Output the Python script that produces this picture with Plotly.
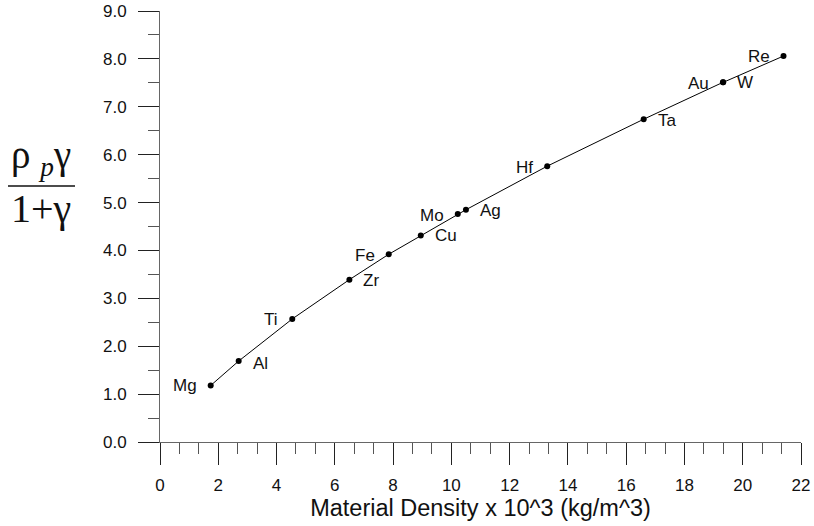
import plotly.graph_objects as go

# Data
metals = ["Mg", "Al", "Ti", "Zr", "Fe", "Cu", "Mo", "Ag", "Hf", "Ta", "Au", "W", "Re"]
density = [1.74, 2.70, 4.54, 6.50, 7.85, 8.95, 10.22, 10.50, 13.29, 16.60, 19.32, 19.33, 21.40]
ratio = [1.18, 1.69, 2.57, 3.39, 3.92, 4.31, 4.76, 4.85, 5.76, 6.74, 7.51, 7.51, 8.06]
label_side = ["left", "right", "left", "right", "left", "right", "left", "right",
              "left", "right", "left", "right", "left"]
label_dy = [0, -2, -1, -1, -1, 0, -1, -1, -1, -1, -1, 0, 0]

x_ticks = list(range(0, 23, 2))
y_ticks = [i * 1.0 for i in range(0, 10)]

fig = go.Figure()
fig.add_trace(go.Scatter(
    x=density, y=ratio, mode="lines+markers",
    line=dict(color="black", width=1),
    marker=dict(color="black", size=6),
    hoverinfo="x+y", showlegend=False, cliponaxis=False,
))

annotations = []
for name, xv, yv, side, dy in zip(metals, density, ratio, label_side, label_dy):
    annotations.append(dict(
        x=xv, y=yv, xref="x", yref="y", text=name, showarrow=False,
        xanchor="right" if side == "left" else "left", yanchor="middle",
        xshift=-12 if side == "left" else 12, yshift=dy,
        font=dict(family="Liberation Sans, Arial, sans-serif", size=17, color="#111"),
    ))

# Y-axis title as a stacked fraction
PL, PT, PW, PH = 160, 11, 641, 431

def px2paper(px, py):
    return (px - PL) / PW, (PT + PH - py) / PH

nx, ny = px2paper(41, 157)
dx, dy_ = px2paper(41, 209)
annotations.append(dict(
    x=nx, y=ny, xref="paper", yref="paper", showarrow=False,
    text="ρ <sub><i>p</i></sub>γ", xanchor="center", yanchor="middle",
    font=dict(family="Liberation Serif, Times New Roman, serif", size=39, color="#111"),
))
annotations.append(dict(
    x=dx, y=dy_, xref="paper", yref="paper", showarrow=False,
    text="1+γ", xanchor="center", yanchor="middle",
    font=dict(family="Liberation Serif, Times New Roman, serif", size=40, color="#111"),
))
lx0, ly = px2paper(8, 186)
lx1, _ = px2paper(75, 186)

fig.update_layout(
    width=814, height=526,
    margin=dict(l=PL, r=814 - PL - PW, t=PT, b=526 - PT - PH),
    paper_bgcolor="white", plot_bgcolor="white",
    font=dict(family="Liberation Sans, Arial, sans-serif", color="#111"),
    annotations=annotations,
    shapes=[dict(type="line", xref="paper", yref="paper",
                 x0=lx0, x1=lx1, y0=ly, y1=ly,
                 line=dict(color="#111", width=1.5))],
    xaxis=dict(
        range=[0, 22], tickvals=x_ticks, ticktext=[str(v) for v in x_ticks],
        automargin=False,
        showgrid=False, zeroline=False, showline=True, linecolor="#666", linewidth=1,
        ticks="outside", ticklen=22, tickcolor="#222", tickwidth=1,
        tickfont=dict(size=17, color="#111"), ticklabelstandoff=6,
        minor=dict(ticks="outside", ticklen=11, dtick=2 / 3, tick0=0,
                   tickcolor="#555", tickwidth=1, showgrid=False),
        title=dict(text="Material Density x 10^3 (kg/m^3)", font=dict(size=23.5, color="#111"),
                   standoff=3),
    ),
    yaxis=dict(
        range=[0, 9], tickvals=y_ticks, ticktext=[f"{v:.1f}" for v in y_ticks],
        automargin=False,
        showgrid=False, zeroline=False, showline=True, linecolor="#666", linewidth=1,
        ticks="outside", ticklen=21, tickcolor="#222", tickwidth=1,
        tickfont=dict(size=17, color="#111"), ticklabelstandoff=8,
        minor=dict(ticks="outside", ticklen=11, dtick=0.5, tick0=0,
                   tickcolor="#555", tickwidth=1, showgrid=False),
    ),
)

fig.write_html("out.html")
